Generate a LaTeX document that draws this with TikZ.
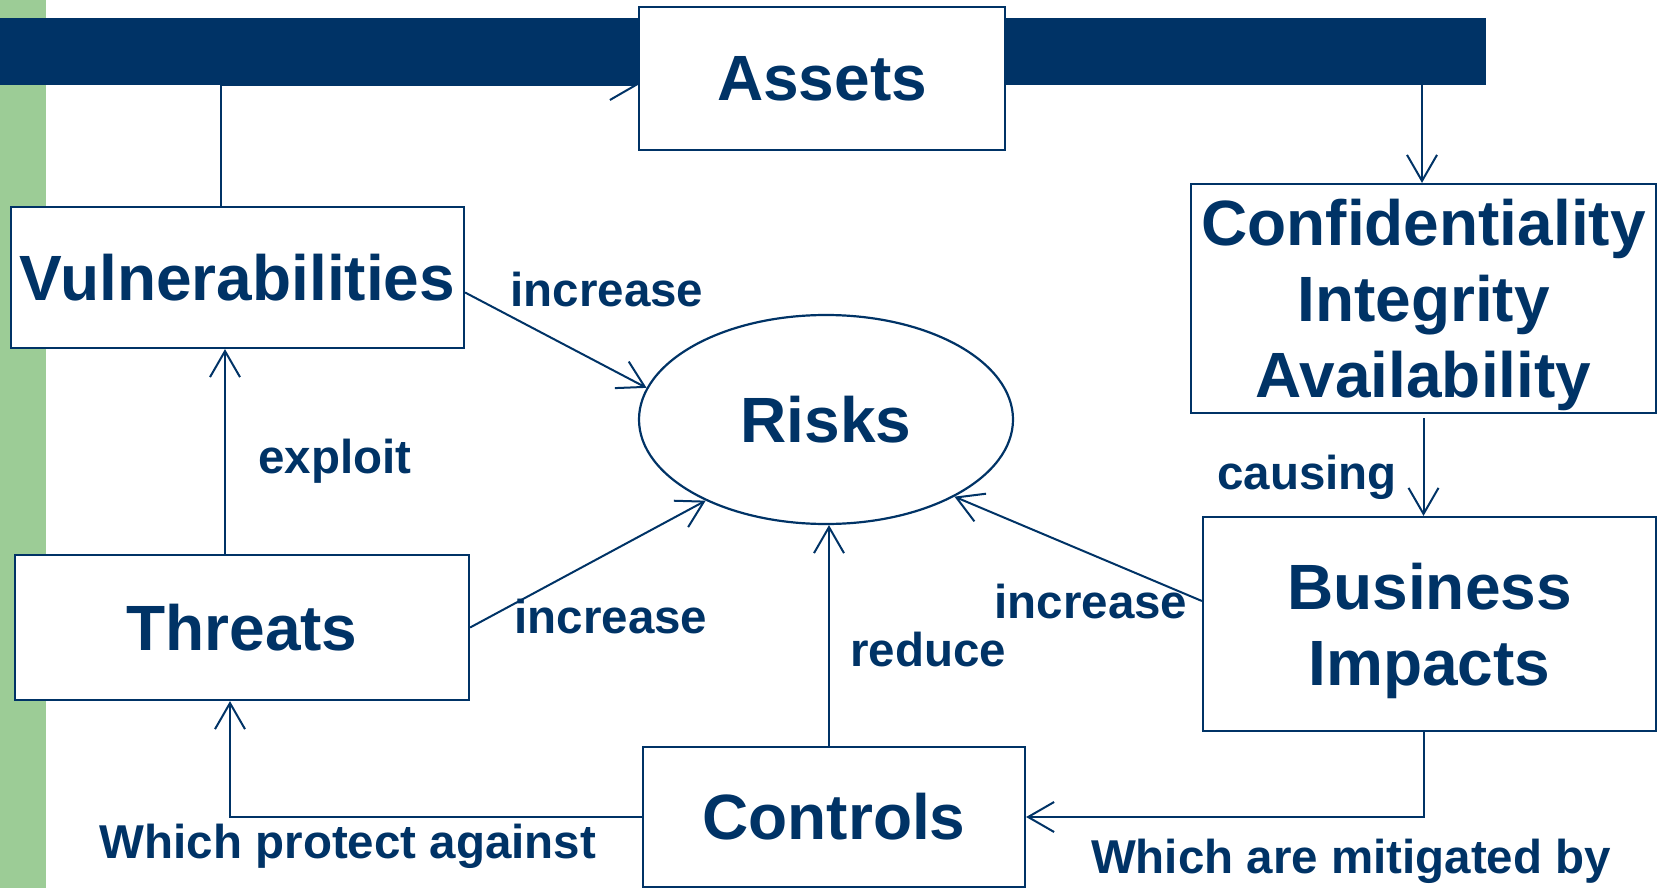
\documentclass[tikz,border=0pt]{standalone}
\usepackage{fontspec}
\setmainfont{Liberation Sans}
\usetikzlibrary{arrows.meta,shapes.geometric}

\definecolor{navy}{RGB}{0,51,102}
\definecolor{leaf}{RGB}{156,204,150}
\newcommand{\bigtext}{\bfseries\fontsize{64}{76}\selectfont}
\newcommand{\smalltext}{\bfseries\fontsize{47.5}{56}\selectfont}

\begin{document}
\begin{tikzpicture}[x=1pt,y=-1pt,>={Straight Barb[length=26pt,width=30pt]},
	every node/.style={text=navy},
	box/.style={draw=navy,line width=2.2pt,fill=white,font=\bigtext,align=center,inner sep=0pt},
	lbl/.style={font=\smalltext,anchor=base,inner sep=0pt},
	link/.style={->,draw=navy,line width=2pt}]
			\useasboundingbox (0,0) rectangle (1662,888);
			% side strip and title bar
			\fill[leaf] (0,0) rectangle (46,888);
			\fill[navy] (0,18) rectangle (1486,85);
			\coordinate (tap) at (1422,85);

			\node [box, minimum width=366, minimum height=143] (assets) at (822,78.5) {Assets};
			\node [box, minimum width=453, minimum height=141] (vul) at (237.5,277.5) {Vulnerabilities};
			\node [box, minimum width=465, minimum height=229, text depth=0pt] (cia) at (1423.5,298.5) {Confidentiality\\Integrity\\Availability};
			\node [box, ellipse, minimum width=374, minimum height=209] (risk) at (826,419.5) {Risks};
			\node [box, minimum width=453, minimum height=214, text depth=0pt] (bus) at (1429.5,624) {Business\\Impacts};
			\node [box, minimum width=454, minimum height=145] (thr) at (242,627.5) {Threats};
			\node [box, minimum width=382, minimum height=140] (ctl) at (834,817) {Controls};

			\draw[link] ([xshift=-17pt]vul.north) |- ([yshift=-6.5pt]assets.west);
			\draw[link] (tap) -- (tap |- cia.north);
			\draw[link] ([yshift=-4pt]cia.south) -- (cia.south |- bus.north);
			\draw[link] ([xshift=-17pt]thr.north) -- ([xshift=-17pt]thr.north |- vul.south);
			\draw[link] ([yshift=-15pt]vul.east) -- (risk.170);
			\draw[link] (thr.east) -- (risk.214);
			\draw[link] ([yshift=23pt]bus.west) -- (risk.329);
			\draw[link] ([xshift=-5pt]ctl.north) -- ([xshift=-5pt]ctl.north |- risk.south);
			\draw[link] (ctl.west) -| ([xshift=-12pt]thr.south);
			\draw[link] ([xshift=-6pt]bus.south) |- (ctl.east);

			\node [lbl] (incv) at (607,306) {increase};
			\node [lbl] (expl) at (335,473) {exploit};
			\node [lbl] (inct) at (611,633) {increase};
			\node [lbl] (redu) at (928,666) {reduce};
			\node [lbl] (incb) at (1091,618) {increase};
			\node [lbl] (caus) at (1307,489) {causing};
			\node [lbl] (prot) at (348,858) {Which protect against};
			\node [lbl] (miti) at (1351,873) {Which are mitigated by};
		\end{tikzpicture}
\end{document}
